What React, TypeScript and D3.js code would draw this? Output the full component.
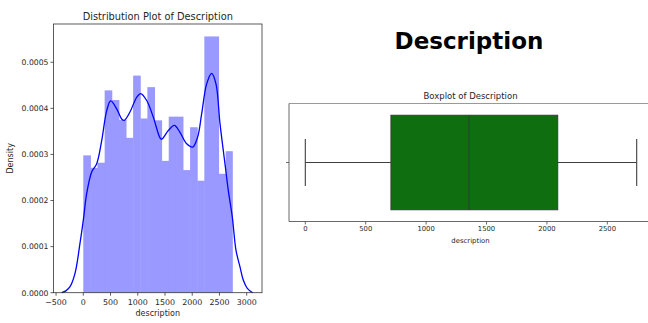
import React from "react";
import * as d3 from "d3";

// Histogram of description lengths (density-normalised), 21 equal bins
const histRange: [number, number] = [0, 2745];
const histDensity = [
  0.000298, 0.000271, 0.000282, 0.000439, 0.000418, 0.000375, 0.000336,
  0.000471, 0.000378, 0.000446, 0.000374, 0.000286, 0.000382, 0.000382,
  0.000266, 0.000359, 0.000243, 0.000556, 0.000556, 0.000258, 0.000307,
];

// Kernel density estimate, sampled along the x axis
const kdeX = [
  -397, -320, -244, -152, -61, 0, 62, 154, 246, 338, 430, 503, 613, 705, 753,
  857, 980, 1054, 1164, 1285, 1408, 1439, 1561, 1671, 1775, 1898, 2008, 2100,
  2173, 2265, 2357, 2436, 2510, 2601, 2662, 2735, 2803, 2877, 2937, 3011, 3110,
];
const kdeY = [
  0, 0.000004, 0.000013, 0.000042, 0.000107, 0.000157, 0.000215, 0.000262,
  0.00028, 0.00033, 0.000395, 0.000416, 0.000399, 0.000377, 0.000374, 0.000392,
  0.000424, 0.000432, 0.000417, 0.000381, 0.000336, 0.000333, 0.000352,
  0.000363, 0.000348, 0.000323, 0.000316, 0.000338, 0.000388, 0.000453,
  0.000476, 0.000453, 0.000367, 0.00028, 0.000222, 0.000165, 0.0000925,
  0.000056, 0.0000275, 0.0000095, 0,
];

// Five-number summary for the boxplot
const boxStats = { low: 0, q1: 709, median: 1355, q3: 2089, high: 2743 };

const distXTicks = [-500, 0, 500, 1000, 1500, 2000, 2500, 3000];
const distYTicks = [0, 0.0001, 0.0002, 0.0003, 0.0004, 0.0005];
const boxXTicks = [0, 500, 1000, 1500, 2000, 2500];

const FONT = "DejaVu Sans, sans-serif";
const TEXT = "#262626";

export default function App() {
  // distribution plot axes
  const L = { left: 53.5, right: 262, top: 24, bottom: 292.7 };
  const x1 = d3.scaleLinear().domain([-547, 3281]).range([L.left, L.right]);
  const y1 = d3.scaleLinear().domain([0, 0.000583]).range([L.bottom, L.top]);

  const nBins = histDensity.length;
  const binW = (histRange[1] - histRange[0]) / nBins;
  const bins = histDensity.map((d, i) => ({
    x0: histRange[0] + i * binW,
    x1: histRange[0] + (i + 1) * binW,
    d,
  }));

  const kdeLine = d3
    .line<number>()
    .x((_, i) => x1(kdeX[i]))
    .y((v) => y1(v))
    .curve(d3.curveCatmullRom.alpha(0.5));

  // boxplot axes
  const R = { left: 289, right: 653, top: 103.5, bottom: 221.5 };
  const x2 = d3.scaleLinear().domain([-135, 2878]).range([R.left, R.right]);
  const y2 = d3.scaleLinear().domain([-0.5, 0.5]).range([R.top, R.bottom]);

  const fmtY = d3.format(".4f");
  const fmtX = (v: number) => (v < 0 ? "\u2212" + Math.abs(v) : String(v));

  return (
    <svg
      width={648}
      height={323}
      style={{ position: "absolute", left: 0, top: 0, background: "#fff" }}
      fontFamily={FONT}
    >
      <rect width={648} height={323} fill="#fff" />

      {/* ---------- Distribution plot ---------- */}
      <text x={(L.left + L.right) / 2} y={19.5} fontSize={9.8} textAnchor="middle" fill={TEXT}>
        Distribution Plot of Description
      </text>
      <g>
        {bins.map((b, i) => (
          <rect
            key={i}
            x={x1(b.x0)}
            y={y1(b.d)}
            width={x1(b.x1) - x1(b.x0) + (i < nBins - 1 ? 0.5 : 0)}
            height={y1(0) - y1(b.d)}
            fill="#9999ff"
          />
        ))}
      </g>
      <path d={kdeLine(kdeY) ?? ""} fill="none" stroke="#0000ff" strokeWidth={1.3} />
      <rect
        x={L.left}
        y={L.top}
        width={L.right - L.left}
        height={L.bottom - L.top}
        fill="none"
        stroke="#333"
        strokeWidth={0.8}
      />
      {distXTicks.map((t) => (
        <g key={t} transform={`translate(${x1(t)},${L.bottom})`}>
          <line y2={3} stroke="#333" strokeWidth={0.8} />
          <text y={12} fontSize={7.9} textAnchor="middle" fill={TEXT}>
            {fmtX(t)}
          </text>
        </g>
      ))}
      {distYTicks.map((t) => (
        <g key={t} transform={`translate(${L.left},${y1(t)})`}>
          <line x2={-3} stroke="#333" strokeWidth={0.8} />
          <text x={-5} y={2.8} fontSize={7.7} textAnchor="end" fill={TEXT}>
            {fmtY(t)}
          </text>
        </g>
      ))}
      <text x={(L.left + L.right) / 2} y={316} fontSize={8} textAnchor="middle" fill={TEXT}>
        description
      </text>
      <text
        transform={`translate(13,${(L.top + L.bottom) / 2}) rotate(-90)`}
        fontSize={8}
        textAnchor="middle"
        fill={TEXT}
      >
        Density
      </text>

      {/* ---------- Heading ---------- */}
      <text x={469} y={49} fontSize={23} fontWeight="bold" textAnchor="middle" fill="#000">
        Description
      </text>

      {/* ---------- Boxplot ---------- */}
      <text x={(R.left + 653) / 2 - 0.5} y={98.5} fontSize={8.5} textAnchor="middle" fill={TEXT}>
        Boxplot of Description
      </text>
      <line x1={R.left} x2={R.right} y1={R.top} y2={R.top} stroke="#999" strokeWidth={1} />
      <line x1={R.left} x2={R.right} y1={R.bottom} y2={R.bottom} stroke="#444" strokeWidth={0.8} />
      <line x1={R.left} x2={R.left} y1={R.top} y2={R.bottom} stroke="#444" strokeWidth={0.8} />
      <line x1={R.right} x2={R.right} y1={R.top} y2={R.bottom} stroke="#444" strokeWidth={0.8} />
      {/* y tick for the single category */}
      <line x1={R.left} x2={R.left - 3} y1={y2(0)} y2={y2(0)} stroke="#444" strokeWidth={0.8} />

      {/* whiskers */}
      <line x1={x2(boxStats.low)} x2={x2(boxStats.q1)} y1={y2(0)} y2={y2(0)} stroke="#3f3f3f" strokeWidth={1.1} />
      <line x1={x2(boxStats.q3)} x2={x2(boxStats.high)} y1={y2(0)} y2={y2(0)} stroke="#3f3f3f" strokeWidth={1.1} />
      <line x1={x2(boxStats.low)} x2={x2(boxStats.low)} y1={y2(-0.2)} y2={y2(0.2)} stroke="#3f3f3f" strokeWidth={1.1} />
      <line x1={x2(boxStats.high)} x2={x2(boxStats.high)} y1={y2(-0.2)} y2={y2(0.2)} stroke="#3f3f3f" strokeWidth={1.1} />
      {/* box */}
      <rect
        x={x2(boxStats.q1)}
        y={y2(-0.4)}
        width={x2(boxStats.q3) - x2(boxStats.q1)}
        height={y2(0.4) - y2(-0.4)}
        fill="#0f6e0f"
        stroke="#3f3f3f"
        strokeWidth={1.1}
      />
      <line
        x1={x2(boxStats.median)}
        x2={x2(boxStats.median)}
        y1={y2(-0.4)}
        y2={y2(0.4)}
        stroke="#2f3f2f"
        strokeWidth={1.1}
      />
      {boxXTicks.map((t) => (
        <g key={t} transform={`translate(${x2(t)},${R.bottom})`}>
          <line y2={3} stroke="#444" strokeWidth={0.8} />
          <text y={9.8} fontSize={6.8} textAnchor="middle" fill={TEXT}>
            {t}
          </text>
        </g>
      ))}
      <text x={(R.left + 653) / 2 - 0.5} y={242.5} fontSize={6.9} textAnchor="middle" fill={TEXT}>
        description
      </text>
    </svg>
  );
}
